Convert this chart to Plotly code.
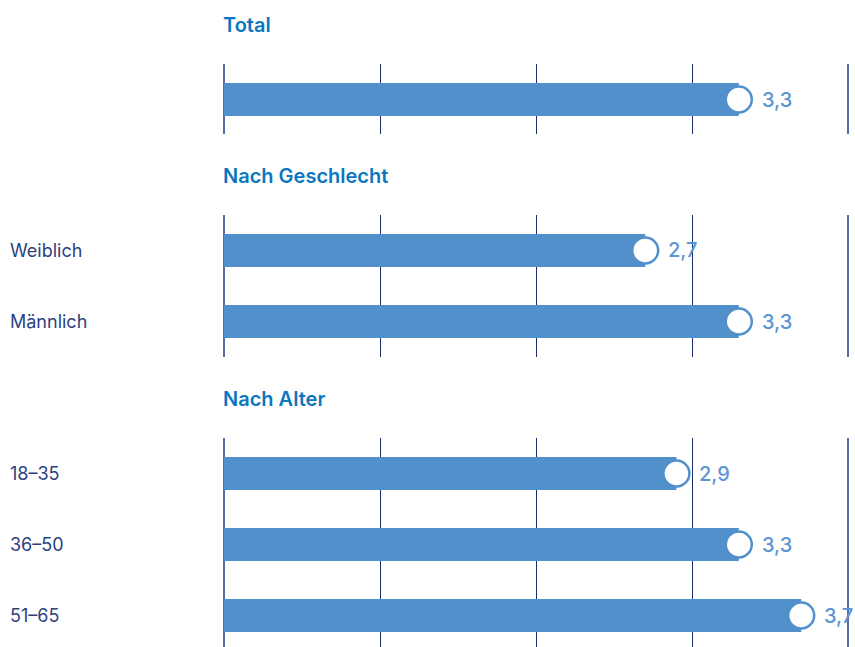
import plotly.graph_objects as go

# ---- data ----
group_titles = ["Total", "Nach Geschlecht", "Nach Alter"]
total_labels = ["Total"]
total_values = [3.3]
gender_labels = ["Weiblich", "Männlich"]
gender_values = [2.7, 3.3]
age_labels = ["18–35", "36–50", "51–65"]
age_values = [2.9, 3.3, 3.7]
grid_ticks = [0, 1, 2, 3, 4]

groups = [
    (total_labels, total_values),
    (gender_labels, gender_values),
    (age_labels, age_values),
]

# ---- styling / layout constants (page pixels) ----
W, H = 855, 647
BAR = "#5290cb"
TITLE_C = "#0a77c0"
LABEL_C = "#2c427f"
VAL_C = "#5b95d3"
GRID_C = "#1d2d6b"
EDGE_C = "#5a6ea3"
FONT = "Inter"
x0_px, unit_px = 224, 156
x_range = [-x0_px / unit_px, (W - x0_px) / unit_px]
row_px = 71
blocks = [(64, 134), (215, 357), (438, H)]
title_y_px = [25, 176, 399]

fig = go.Figure()
annotations = []
shapes = []

for i, ((labels, values), (top, bot)) in enumerate(zip(groups, blocks)):
    ax = "" if i == 0 else str(i + 1)
    xa, ya = "x" + ax, "y" + ax
    fig.add_trace(go.Bar(
        x=values, y=labels, orientation="h", width=0.465,
        marker=dict(color=BAR, line=dict(width=0)),
        xaxis=xa, yaxis=ya, hoverinfo="skip",
    ))
    fig.add_trace(go.Scatter(
        x=values, y=labels, mode="markers",
        marker=dict(size=26, color="white", line=dict(color=BAR, width=2.5)),
        xaxis=xa, yaxis=ya, hoverinfo="skip", cliponaxis=False,
    ))
    for lab, v in zip(labels, values):
        annotations.append(dict(
            text=f"{v:.1f}".replace(".", ","), xref=xa, yref=ya, x=v, y=lab,
            xanchor="left", yanchor="middle", xshift=21, yshift=0, showarrow=False,
            font=dict(family=FONT, size=20, color=VAL_C, weight=500),
        ))
    d_top = 1 - top / H
    d_bot = 1 - bot / H
    rows_visible = (bot - top) / row_px
    fig.layout["xaxis" + ax] = dict(
        domain=[0, 1], range=x_range, anchor=ya,
        tickvals=grid_ticks[1:-1], showticklabels=False, ticks="",
        showgrid=True, gridcolor=GRID_C, gridwidth=1,
        zeroline=False, showline=False, fixedrange=True,
    )
    fig.layout["yaxis" + ax] = dict(
        domain=[d_bot, d_top], anchor=xa,
        type="category", categoryorder="array", categoryarray=labels,
        range=[-0.5 + rows_visible, -0.5],
        showticklabels=False, showgrid=False, zeroline=False,
        showline=False, ticks="", fixedrange=True,
    )
    for gx in (grid_ticks[0], grid_ticks[-1]):
        shapes.append(dict(
            type="line", xref=xa, yref=ya + " domain",
            x0=gx, x1=gx, y0=0, y1=1, layer="below",
            line=dict(color=EDGE_C, width=2),
        ))
    annotations.append(dict(
        text=group_titles[i], xref="paper", yref="paper",
        x=x0_px / W, y=1 - title_y_px[i] / H, xanchor="left", yanchor="middle",
        xshift=-3, showarrow=False,
        font=dict(family=FONT, size=20, color=TITLE_C, weight=600),
    ))
    if i > 0:
        for lab in labels:
            annotations.append(dict(
                text=lab, xref="paper", yref=ya, x=8 / W, y=lab,
                xanchor="left", yanchor="middle", showarrow=False,
                font=dict(family=FONT, size=18, color=LABEL_C),
            ))

fig.update_layout(
    width=W, height=H, margin=dict(l=0, r=0, t=0, b=0),
    paper_bgcolor="white", plot_bgcolor="white",
    showlegend=False, barmode="overlay",
    annotations=annotations, shapes=shapes,
    font=dict(family=FONT),
)

fig.write_html(
    "out.html",
    config={"displayModeBar": False, "staticPlot": True},
    post_script="document.body.style.margin='0';document.body.style.overflow='hidden';",
)
